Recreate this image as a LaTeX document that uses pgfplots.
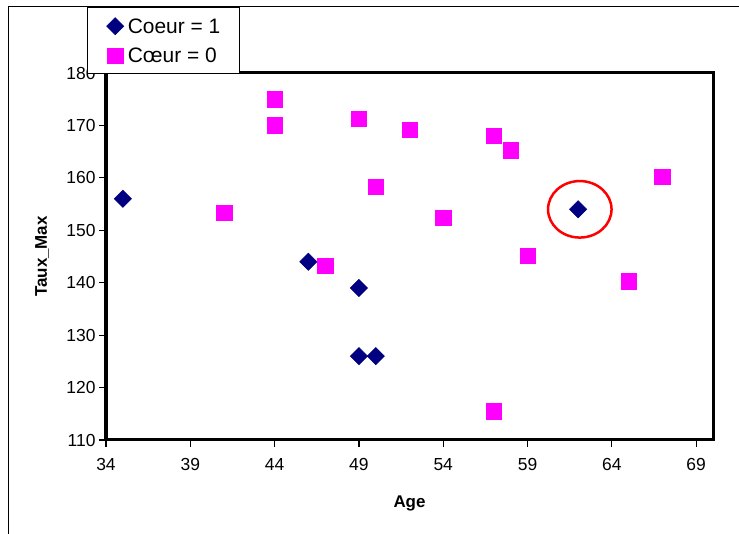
\documentclass[border=0pt]{standalone}
\usepackage{pgfplots}
\pgfplotsset{compat=1.18}
\usepackage{fontspec}
\setmainfont{Liberation Sans}
\definecolor{navyc}{RGB}{0,0,128}
\definecolor{magc}{RGB}{255,0,255}
\begin{document}
\begin{tikzpicture}
\useasboundingbox (0,0) rectangle (739bp,534bp);
\fill[white] (0,0) rectangle (739bp,534bp);
\draw[line width=1bp] (8bp,0) -- (8bp,527bp) -- (739bp,527bp);
\begin{axis}[
  at={(106bp,94bp)}, anchor=south west,
  scale only axis, width=607bp, height=367bp,
  xmin=34, xmax=70, ymin=110, ymax=180,
  xtick={34,39,...,69}, ytick={110,120,...,180},
  tick pos=left, tick align=outside, major tick length=7bp,
  tick style={line width=1.2bp, black},
  axis line style={line width=3bp},
  /pgf/number format/assume math mode=true,
  ticklabel style={font=\fontsize{17.5}{20}\selectfont},
  xticklabel style={yshift=-8bp},
  xlabel={Age}, ylabel={Taux\_Max},
  label style={font=\fontsize{17}{20}\selectfont\bfseries},
  xlabel style={at={(axis description cs:0.5,-0.1826)}, anchor=base},
  ylabel style={at={(axis description cs:-0.0972,0.5)}, anchor=base},
  legend style={at={(axis description cs:-0.0313,1.1798)}, anchor=north west,
    draw=black, line width=1.2bp, fill=white, inner xsep=19bp, inner ysep=10bp,
    row sep=13bp, column sep=4bp, nodes={inner sep=0pt, text depth=0pt},
    cells={anchor=west}, font=\fontsize{21}{25}\selectfont},
  legend image code/.code={\draw[#1] plot coordinates {(0bp,0bp)};},
]
\addplot[only marks, mark=square*, mark size=6.1bp,
  mark options={rotate=45, draw=navyc, fill=navyc, line width=0.5bp}]
  table {
x y
35 156
46 144
49 139
49 126
50 126
62 154
};
\addlegendentry{Coeur = 1}
\addplot[only marks, mark=square*, mark size=7.75bp,
  mark options={draw=magc, fill=magc, line width=0.5bp}]
  table {
x y
44 175
44 170
49 171.3
52 169.2
50 158.3
41 153.3
47 143.2
54 152.4
57 168
58 165.3
59 145.1
57 115.5
65 140.3
67 160.2
};
\addlegendentry{Cœur = 0}
\draw[red, line width=2.5bp] (axis cs:62.1,154) ellipse [x radius=31.75bp, y radius=28.25bp];
\end{axis}
\end{tikzpicture}
\end{document}
